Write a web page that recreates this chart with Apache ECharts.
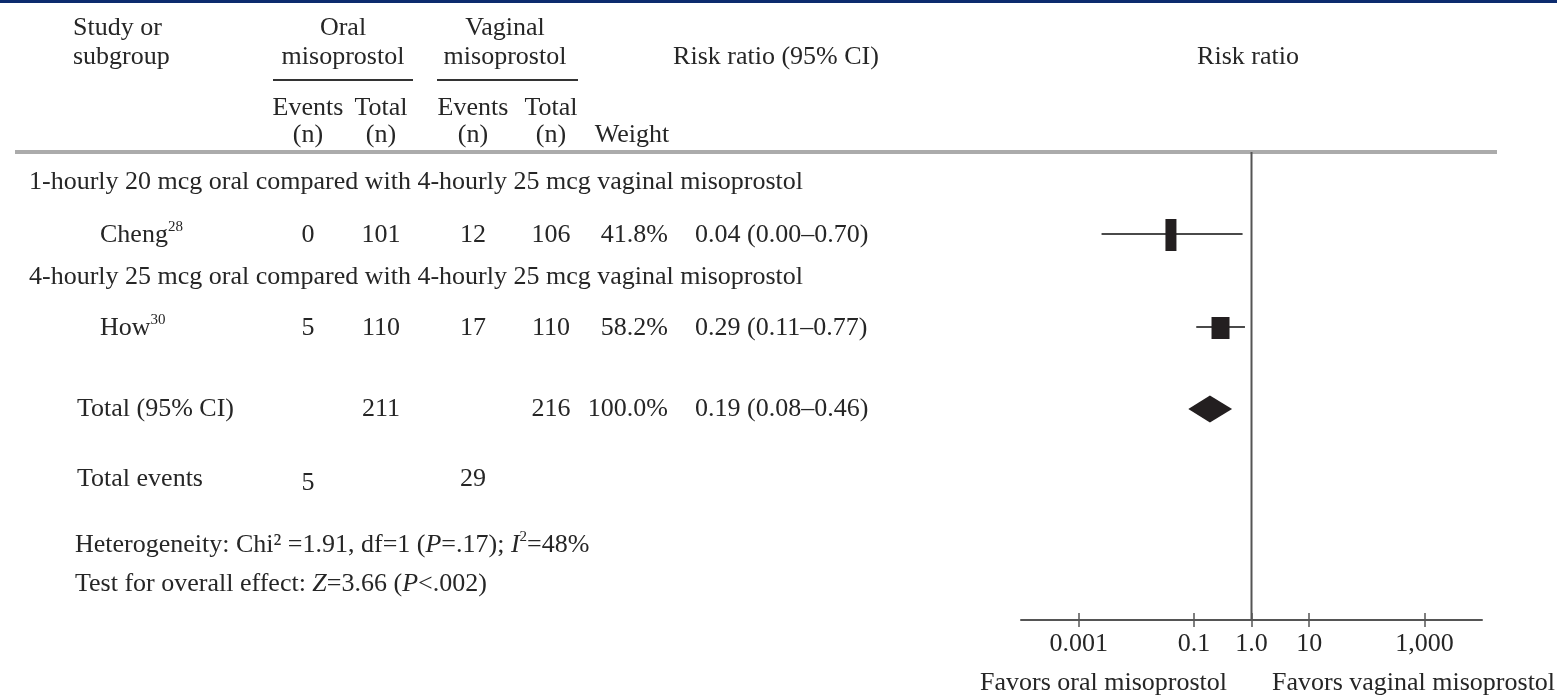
<!DOCTYPE html>
<html><head><meta charset="utf-8">
<script src="https://cdn.jsdelivr.net/npm/echarts@6/dist/echarts.min.js"></script>
<style>html,body{margin:0;padding:0;background:#fff}#c{width:1557px;height:695px}</style>
</head><body><div id="c"></div>
<script>
// ---------------- DATA ----------------
const subgroups = [
  '1-hourly 20 mcg oral compared with 4-hourly 25 mcg vaginal misoprostol',
  '4-hourly 25 mcg oral compared with 4-hourly 25 mcg vaginal misoprostol'
];
const studies = ['Cheng', 'How'];
const studyRefs = ['28', '30'];
const oralEvents = [0, 5];
const oralTotals = [101, 110];
const vaginalEvents = [12, 17];
const vaginalTotals = [106, 110];
const weights = [41.8, 58.2];
const riskRatios = [0.04, 0.29];
const ciLower = [0.0025, 0.11];
const ciUpper = [0.70, 0.77];
const pooledTotals = [211, 216];
const pooledWeight = [100.0];
const pooledRR = [0.19, 0.08, 0.46];      // estimate, lower, upper
const totalEvents = [5, 29];
const heterogeneityStats = ['1.91', '1', '.17', '48']; // Chi2, df, P, I2
const overallStats = ['3.66', '<.002'];                 // Z, P
const tickValues = [0.001, 0.1, 1, 10, 1000];
const tickLabels = ['0.001', '0.1', '1.0', '10', '1,000'];
const axisRange = [0.0001, 10000];
const favorLabels = ['Favors oral misoprostol', 'Favors vaginal misoprostol'];

// ---------------- LAYOUT / STYLE ----------------
const FONT = "'Liberation Serif','Times New Roman',serif";
const FS = 26;
const TXT = '#262626';
const MARK = '#231f20';
const LINEC = '#555555';
const COL = {oralEv: 308, oralTot: 381, vagEv: 473, vagTot: 551, weightR: 668, rrL: 695, name: 100, sub: 29, total: 77};
const ROW = {h1: 28, h2: 57, ul: 80, h3: 108, h4: 135, line: 152, sub: [182, 277], study: [235, 328],
             total: 409, events: 479, het: 545, test: 584, axis: 620, favors: 683};
const markerSize = [[11, 32], [18, 22]];
const diamondHalfH = 13.5;

function fmt2(v) { return v.toFixed(2); }
function txt(text, x, y, align, extra) {
  const st = Object.assign({text: String(text), x: x, y: y, font: FS + 'px ' + FONT, fill: TXT,
    align: align, textAlign: align, verticalAlign: 'middle', textVerticalAlign: 'middle'}, extra || {});
  return {type: 'text', silent: true, style: st};
}
function hline(x1, x2, y, w, c) {
  return {type: 'line', silent: true, shape: {x1: x1, y1: y, x2: x2, y2: y}, style: {stroke: c, lineWidth: w}};
}
const richBase = {
  r: {font: FS + 'px ' + FONT, fill: TXT, lineHeight: 30},
  i: {font: 'italic ' + FS + 'px ' + FONT, fill: TXT, lineHeight: 30},
  s: {font: '15px ' + FONT, fill: TXT, verticalAlign: 'top'}
};
function rich(text, x, y) {
  return {type: 'text', silent: true, style: {text: text, x: x, y: y, rich: richBase,
    align: 'left', textAlign: 'left', verticalAlign: 'middle', textVerticalAlign: 'middle'}};
}

const g = [];
g.push({type: 'rect', silent: true, shape: {x: 0, y: 0, width: 1557, height: 3}, style: {fill: '#0c2b6e'}});
// header
g.push(txt('Study or', 73, ROW.h1, 'left'));
g.push(txt('subgroup', 73, ROW.h2, 'left'));
g.push(txt('Oral', 343, ROW.h1, 'center'));
g.push(txt('misoprostol', 343, ROW.h2, 'center'));
g.push(txt('Vaginal', 505, ROW.h1, 'center'));
g.push(txt('misoprostol', 505, ROW.h2, 'center'));
g.push(hline(273, 413, ROW.ul, 2, '#333'));
g.push(hline(437, 578, ROW.ul, 2, '#333'));
g.push(txt('Risk ratio (95% CI)', 776, ROW.h2, 'center'));
g.push(txt('Risk ratio', 1248, ROW.h2, 'center'));
[[COL.oralEv, 'Events'], [COL.oralTot, 'Total'], [COL.vagEv, 'Events'], [COL.vagTot, 'Total']].forEach(function (p) {
  g.push(txt(p[1], p[0], ROW.h3, 'center'));
  g.push(txt('(n)', p[0], ROW.h4, 'center'));
});
g.push(txt('Weight', 632, ROW.h4, 'center'));
g.push(hline(15, 1497, ROW.line, 4, '#ababab'));
// study rows
studies.forEach(function (s, i) {
  g.push(txt(subgroups[i], COL.sub, ROW.sub[i], 'left'));
  g.push(rich('{r|' + s + '}{s|' + studyRefs[i] + '}', COL.name, ROW.study[i]));
  g.push(txt(oralEvents[i], COL.oralEv, ROW.study[i], 'center'));
  g.push(txt(oralTotals[i], COL.oralTot, ROW.study[i], 'center'));
  g.push(txt(vaginalEvents[i], COL.vagEv, ROW.study[i], 'center'));
  g.push(txt(vaginalTotals[i], COL.vagTot, ROW.study[i], 'center'));
  g.push(txt(weights[i].toFixed(1) + '%', COL.weightR, ROW.study[i], 'right'));
  g.push(txt(fmt2(riskRatios[i]) + ' (' + fmt2(ciLower[i]) + '\u2013' + fmt2(ciUpper[i]) + ')', COL.rrL, ROW.study[i], 'left'));
});
// totals
g.push(txt('Total (95% CI)', COL.total, ROW.total, 'left'));
g.push(txt(pooledTotals[0], COL.oralTot, ROW.total, 'center'));
g.push(txt(pooledTotals[1], COL.vagTot, ROW.total, 'center'));
g.push(txt(pooledWeight[0].toFixed(1) + '%', COL.weightR, ROW.total, 'right'));
g.push(txt(fmt2(pooledRR[0]) + ' (' + fmt2(pooledRR[1]) + '\u2013' + fmt2(pooledRR[2]) + ')', COL.rrL, ROW.total, 'left'));
g.push(txt('Total events', COL.total, ROW.events, 'left'));
g.push(txt(totalEvents[0], COL.oralEv, ROW.events + 4, 'center'));
g.push(txt(totalEvents[1], COL.vagEv, ROW.events, 'center'));
g.push(rich('{r|Heterogeneity: Chi\u00b2 =' + heterogeneityStats[0] + ', df=' + heterogeneityStats[1] + ' (}{i|P}{r|=' +
  heterogeneityStats[2] + '); }{i|I}{s|2}{r|=' + heterogeneityStats[3] + '%}', 75, ROW.het));
g.push(rich('{r|Test for overall effect: }{i|Z}{r|=' + overallStats[0] + ' (}{i|P}{r|' + overallStats[1] + ')}', 75, ROW.test));
// favors labels
g.push(txt(favorLabels[0], 1227, ROW.favors, 'right'));
g.push(txt(favorLabels[1], 1272, ROW.favors, 'left'));

// ---------------- FOREST ----------------
const L = Math.log10;
const tickLog = tickValues.map(L);
const studyData = studies.map(function (s, i) {
  return [L(riskRatios[i]), L(ciLower[i]), L(ciUpper[i]), ROW.study[i], i];
});
const pooledData = [[L(pooledRR[0]), L(pooledRR[1]), L(pooledRR[2]), ROW.total]];
const refData = [[L(1), ROW.line, ROW.axis]];

const chart = echarts.init(document.getElementById('c'), null, {renderer: 'canvas'});
chart.setOption({
  backgroundColor: '#ffffff',
  animation: false,
  grid: {left: 1021, right: 75, top: ROW.line, bottom: 695 - ROW.axis},
  xAxis: [{
    type: 'value', min: L(axisRange[0]), max: L(axisRange[1]), position: 'bottom',
    splitLine: {show: false},
    axisLine: {show: true, lineStyle: {color: LINEC, width: 2}},
    axisTick: {show: true, customValues: tickLog, length: 7, lineStyle: {color: LINEC, width: 1.5}},
    axisLabel: {show: true, customValues: tickLog, margin: 11, fontFamily: FONT, fontSize: FS, color: TXT,
      formatter: function (v) {
        for (let k = 0; k < tickLog.length; k++) if (Math.abs(tickLog[k] - v) < 1e-9) return tickLabels[k];
        return '';
      }}
  }, {
    type: 'value', min: L(axisRange[0]), max: L(axisRange[1]), position: 'bottom',
    splitLine: {show: false}, axisLine: {show: false},
    axisTick: {show: true, inside: true, customValues: tickLog, length: 7, lineStyle: {color: LINEC, width: 1.5}},
    axisLabel: {show: false}
  }],
  yAxis: {type: 'value', min: ROW.line, max: ROW.axis, inverse: true, show: false},
  series: [{
    type: 'custom', xAxisIndex: 0, data: refData, silent: true,
    renderItem: function (p, api) {
      const a = api.coord([api.value(0), api.value(1)]);
      const b = api.coord([api.value(0), api.value(2)]);
      return {type: 'line', shape: {x1: a[0], y1: a[1], x2: b[0], y2: b[1]}, style: {stroke: LINEC, lineWidth: 2}};
    }
  }, {
    type: 'custom', xAxisIndex: 0, data: studyData, silent: true,
    renderItem: function (p, api) {
      const c = api.coord([api.value(0), api.value(3)]);
      const l = api.coord([api.value(1), api.value(3)]);
      const h = api.coord([api.value(2), api.value(3)]);
      const sz = markerSize[api.value(4)];
      return {type: 'group', children: [
        {type: 'line', shape: {x1: l[0], y1: l[1] - 1, x2: h[0], y2: h[1] - 1}, style: {stroke: '#4a4a4a', lineWidth: 2}},
        {type: 'rect', shape: {x: c[0] - sz[0] / 2, y: c[1] - sz[1] / 2, width: sz[0], height: sz[1]}, style: {fill: MARK}}
      ]};
    }
  }, {
    type: 'custom', xAxisIndex: 0, data: pooledData, silent: true,
    renderItem: function (p, api) {
      const c = api.coord([api.value(0), api.value(3)]);
      const l = api.coord([api.value(1), api.value(3)]);
      const h = api.coord([api.value(2), api.value(3)]);
      return {type: 'polygon', shape: {points: [[l[0], c[1]], [c[0], c[1] - diamondHalfH], [h[0], c[1]], [c[0], c[1] + diamondHalfH]]},
        style: {fill: MARK}};
    }
  }],
  graphic: g
});
</script></body></html>
